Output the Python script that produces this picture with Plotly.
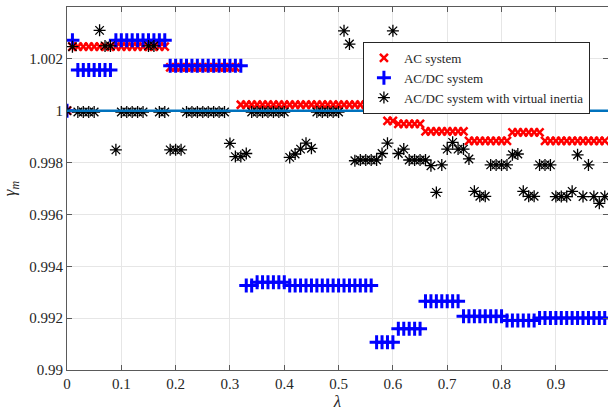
import plotly.graph_objects as go

# lambda grid
lam = [0.00, 0.01, 0.02, 0.03, 0.04, 0.05, 0.06, 0.07, 0.08, 0.09,
       0.10, 0.11, 0.12, 0.13, 0.14, 0.15, 0.16, 0.17, 0.18, 0.19,
       0.20, 0.21, 0.22, 0.23, 0.24, 0.25, 0.26, 0.27, 0.28, 0.29,
       0.30, 0.31, 0.32, 0.33, 0.34, 0.35, 0.36, 0.37, 0.38, 0.39,
       0.40, 0.41, 0.42, 0.43, 0.44, 0.45, 0.46, 0.47, 0.48, 0.49,
       0.50, 0.51, 0.52, 0.53, 0.54, 0.55, 0.56, 0.57, 0.58, 0.59,
       0.60, 0.61, 0.62, 0.63, 0.64, 0.65, 0.66, 0.67, 0.68, 0.69,
       0.70, 0.71, 0.72, 0.73, 0.74, 0.75, 0.76, 0.77, 0.78, 0.79,
       0.80, 0.81, 0.82, 0.83, 0.84, 0.85, 0.86, 0.87, 0.88, 0.89,
       0.90, 0.91, 0.92, 0.93, 0.94, 0.95, 0.96, 0.97, 0.98, 0.99]

ac_system = [
    1.0, 1.00247, 1.00247, 1.00247, 1.00247, 1.00247, 1.00247, 1.00247, 1.00247, 1.00247,
    1.00247, 1.00247, 1.00247, 1.00247, 1.00247, 1.00247, 1.00247, 1.00247, 1.00247, 1.00167,
    1.00167, 1.00167, 1.00167, 1.00167, 1.00167, 1.00167, 1.00167, 1.00167, 1.00167, 1.00167,
    1.00167, 1.00167, 1.00023, 1.00023, 1.00023, 1.00023, 1.00023, 1.00023, 1.00023, 1.00023,
    1.00023, 1.00023, 1.00023, 1.00023, 1.00023, 1.00023, 1.00023, 1.00023, 1.00023, 1.00023,
    1.00023, 1.00023, 1.00023, 1.00023, 1.00023, 1.00023, 1.00023, 1.00023, 1.00023, 0.99961,
    0.99961, 0.99949, 0.99949, 0.99949, 0.99949, 0.99949, 0.99920, 0.99920, 0.99920, 0.99920,
    0.99920, 0.99920, 0.99920, 0.99920, 0.99884, 0.99884, 0.99884, 0.99884, 0.99884, 0.99884,
    0.99884, 0.99884, 0.99916, 0.99916, 0.99916, 0.99916, 0.99916, 0.99916, 0.99884, 0.99884,
    0.99884, 0.99884, 0.99884, 0.99884, 0.99884, 0.99884, 0.99884, 0.99884, 0.99884, 0.99884]

acdc_system = [
    1.0, 1.00272, 1.00157, 1.00157, 1.00157, 1.00157, 1.00157, 1.00157, 1.00157, 1.00272,
    1.00272, 1.00272, 1.00272, 1.00272, 1.00272, 1.00272, 1.00272, 1.00272, 1.00272, 1.00173,
    1.00173, 1.00173, 1.00173, 1.00173, 1.00173, 1.00173, 1.00173, 1.00173, 1.00173, 1.00173,
    1.00173, 1.00173, 1.00173, 0.99326, 0.99326, 0.99338, 0.99338, 0.99338, 0.99338, 0.99338,
    0.99338, 0.99326, 0.99326, 0.99326, 0.99326, 0.99326, 0.99326, 0.99326, 0.99326, 0.99326,
    0.99326, 0.99326, 0.99326, 0.99326, 0.99326, 0.99326, 0.99326, 0.99107, 0.99107, 0.99107,
    0.99107, 0.99159, 0.99159, 0.99159, 0.99159, 0.99159, 0.99265, 0.99265, 0.99265, 0.99265,
    0.99265, 0.99265, 0.99265, 0.99207, 0.99207, 0.99207, 0.99207, 0.99207, 0.99207, 0.99207,
    0.99207, 0.99191, 0.99191, 0.99191, 0.99191, 0.99191, 0.99191, 0.99201, 0.99201, 0.99201,
    0.99201, 0.99201, 0.99201, 0.99201, 0.99201, 0.99201, 0.99201, 0.99201, 0.99201, 0.99201]

acdc_virtual_inertia = [
    1.0, 1.00247, 0.99995, 0.99995, 0.99995, 0.99995, 1.00310, 1.00250, 1.00250, 0.99849,
    0.99995, 0.99995, 0.99995, 0.99995, 0.99995, 1.00250, 1.00250, 0.99995, 0.99995, 0.99849,
    0.99849, 0.99849, 0.99995, 0.99995, 0.99995, 0.99995, 0.99995, 0.99995, 0.99995, 0.99995,
    0.99874, 0.99823, 0.99823, 0.99835, 0.99995, 0.99995, 0.99995, 0.99995, 0.99995, 0.99995,
    0.99995, 0.99820, 0.99833, 0.99852, 0.99875, 0.99855, 0.99995, 0.99995, 0.99995, 0.99995,
    0.99995, 1.00308, 1.00257, 0.99807, 0.99810, 0.99810, 0.99810, 0.99810, 0.99835, 0.99875,
    1.00308, 0.99835, 0.99852, 0.99810, 0.99810, 0.99810, 0.99810, 0.99788, 0.99685, 0.99791,
    0.99852, 0.99878, 0.99852, 0.99852, 0.99814, 0.99689, 0.99670, 0.99670, 0.99791, 0.99791,
    0.99791, 0.99791, 0.99830, 0.99833, 0.99689, 0.99670, 0.99670, 0.99791, 0.99791, 0.99791,
    0.99669, 0.99669, 0.99669, 0.99689, 0.99830, 0.99669, 0.99791, 0.99669, 0.99643, 0.99669]

reference_level = 1.0

x_ticks = [0, 0.1, 0.2, 0.3, 0.4, 0.5, 0.6, 0.7, 0.8, 0.9]
x_ticklabels = ["0", "0.1", "0.2", "0.3", "0.4", "0.5", "0.6", "0.7", "0.8", "0.9"]
y_ticks = [0.99, 0.992, 0.994, 0.996, 0.998, 1.0, 1.002, 1.004]
y_ticklabels = ["0.99", "0.992", "0.994", "0.996", "0.998", "1", "1.002", "1.004"]

SERIF = "Liberation Serif, Times New Roman, DejaVu Serif, serif"
TXT = "#262626"

fig = go.Figure()

fig.add_trace(go.Scatter(
    x=lam, y=ac_system, mode="markers", name="AC system",
    marker=dict(symbol="x-thin", size=8, color="#FF0000",
                line=dict(color="#FF0000", width=2.5))))
fig.add_trace(go.Scatter(
    x=lam, y=acdc_system, mode="markers", name="AC/DC system",
    marker=dict(symbol="cross-thin", size=10, color="#0000FF",
                line=dict(color="#0000FF", width=3))))
fig.add_trace(go.Scatter(
    x=lam, y=acdc_virtual_inertia, mode="markers", name="AC/DC system with virtual inertia",
    marker=dict(symbol="asterisk", size=10, color="#000000",
                line=dict(color="#000000", width=1.3))))

fig.add_hline(y=reference_level, line=dict(color="#0072BD", width=2.5), layer="above")

axis_common = dict(
    showgrid=True, gridcolor="#E6E6E6", gridwidth=1,
    showline=True, linecolor="#5a5a5a", linewidth=1,
    ticks="inside", ticklen=5, tickcolor="#5a5a5a", mirror="ticks",
    zeroline=False,
    tickfont=dict(family=SERIF, size=15, color=TXT),
)

fig.update_xaxes(range=[0, 0.996], tickvals=x_ticks, ticktext=x_ticklabels,
                 title=dict(text="<i>λ</i>", font=dict(family=SERIF, size=17, color=TXT), standoff=2),
                 **axis_common)
fig.update_yaxes(range=[0.99, 1.004], tickvals=y_ticks, ticktext=y_ticklabels,
                 title=dict(text="<i>γ<sub>m</sub></i>", font=dict(family=SERIF, size=17, color=TXT), standoff=13),
                 **axis_common)

fig.update_layout(
    width=608, height=412,
    margin=dict(l=67, r=0, t=7, b=42),
    plot_bgcolor="white", paper_bgcolor="white",
    font=dict(family=SERIF),
    legend=dict(x=0.547, y=0.904, xanchor="left", yanchor="top",
                bgcolor="white", bordercolor="#262626", borderwidth=1,
                font=dict(family=SERIF, size=13, color=TXT),
                itemwidth=30, tracegroupgap=0),
    showlegend=True,
)

fig.write_html("out.html")
